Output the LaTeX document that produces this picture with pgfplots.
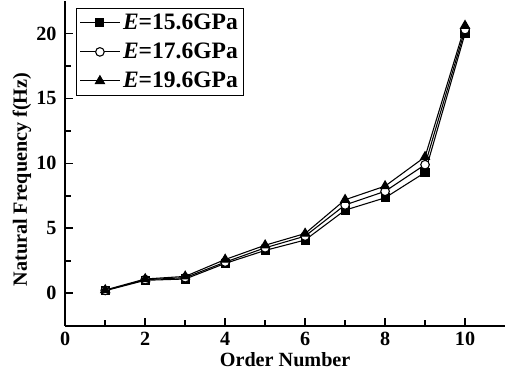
\documentclass[border=0pt]{standalone}
\usepackage{pgfplots}
\pgfplotsset{compat=1.18}
\usepackage{fontspec}
\setmainfont{Liberation Serif}
\begin{document}
\begin{tikzpicture}
\begin{axis}[
  scale only axis,
  width=327pt, height=241.5pt,
  xmin=0, xmax=11, ymin=-2.5, ymax=22.5,
  axis x line*=bottom, axis y line*=left,
  axis line style={line width=1.5pt},
  tick align=inside,
  xtick={0,2,4,6,8,10}, ytick={0,5,10,15,20},
  minor x tick num=1, minor y tick num=1,
  major tick length=6pt, minor tick length=4pt,
  tick style={line width=1.3pt, black},
  ticklabel style={font=\fontsize{15}{17}\selectfont\bfseries},
  xticklabel style={yshift=-1pt},
  yticklabel style={xshift=-3pt},
  /pgf/number format/assume math mode=true,
  xlabel={Order Number}, ylabel={Natural Frequency f(Hz)},
  label style={font=\fontsize{15}{17}\selectfont\bfseries},
  xlabel style={yshift=2pt},
  ylabel style={yshift=-3pt, xshift=-12pt},
  legend style={at={(rel axis cs:0.025,0.978)}, anchor=north west, draw=black, line width=0.8pt,
     font=\fontsize{17.5}{19}\selectfont\bfseries, row sep=4.5pt, inner sep=2pt},
  legend image code/.code={\draw[mark repeat=2,mark phase=2] plot coordinates {(0cm,0cm) (0.52cm,0cm) (1.04cm,0cm)};},
  legend cell align=left,
  every axis plot/.append style={line width=0.8pt, black},
]
\addplot[mark=square*, mark size=3pt, mark options={solid, fill=black}] coordinates {
(1,0.2) (2,1.0) (3,1.1) (4,2.3) (5,3.3) (6,4.1) (7,6.4) (8,7.35) (9,9.3) (10,20.0)};
\addlegendentry{\textit{E}=15.6GPa}
\addplot[mark=*, mark size=3.2pt, mark options={solid, fill=white}] coordinates {
(1,0.22) (2,1.05) (3,1.2) (4,2.4) (5,3.5) (6,4.4) (7,6.8) (8,7.85) (9,9.9) (10,20.3)};
\addlegendentry{\textit{E}=17.6GPa}
\addplot[mark=triangle*, mark size=3.8pt, mark options={solid, fill=black}] coordinates {
(1,0.25) (2,1.1) (3,1.3) (4,2.6) (5,3.7) (6,4.6) (7,7.2) (8,8.25) (9,10.5) (10,20.6)};
\addlegendentry{\textit{E}=19.6GPa}
\end{axis}
\path ([xshift=-6pt]current bounding box.west);
\end{tikzpicture}
\end{document}
